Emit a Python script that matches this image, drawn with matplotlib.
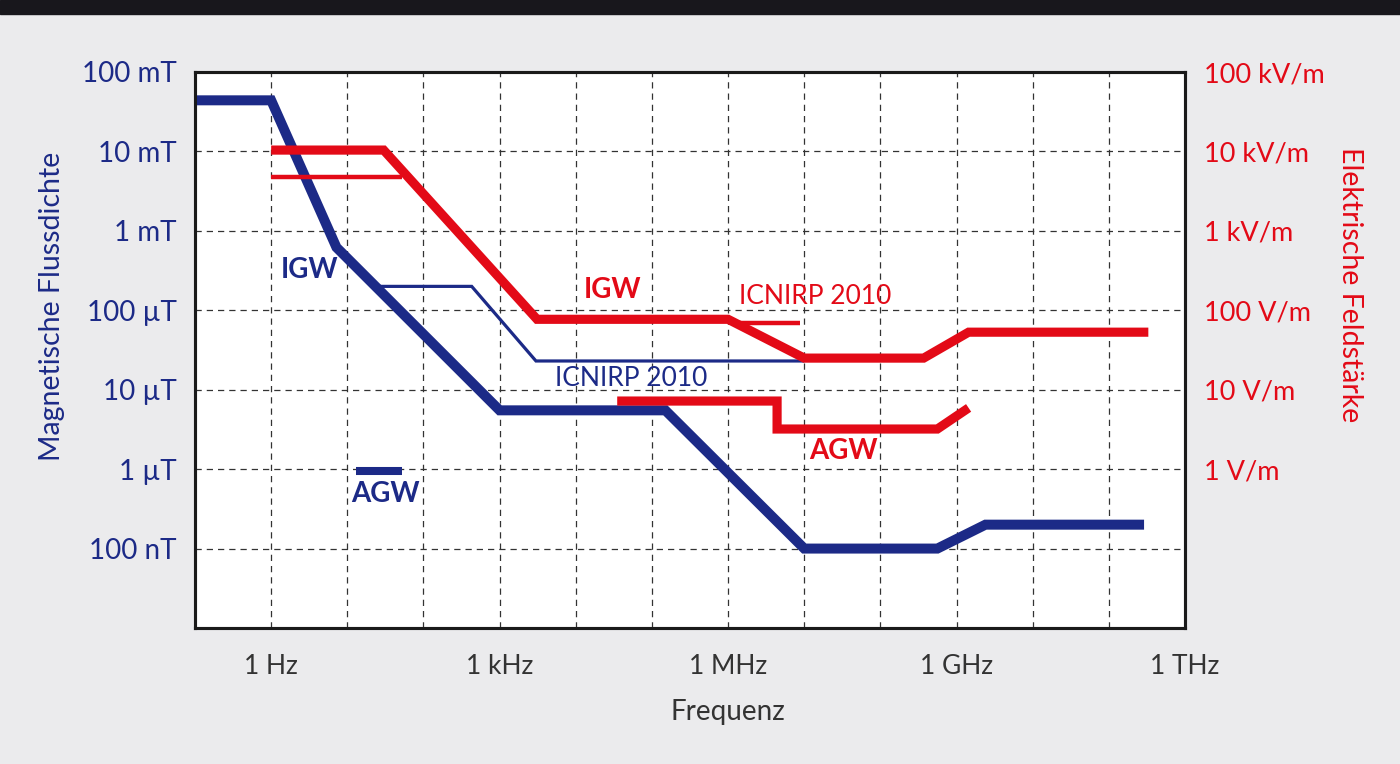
import matplotlib.pyplot as plt
from matplotlib.patches import Rectangle

BLUE = '#1c2a87'
RED = '#e30a17'
BG = '#ebebed'

# magnetic flux density (T) vs frequency (Hz)
igw_b_f = [0.1, 1, 7.2, 1000, 1.5e5, 1e7, 5.6e8, 2.4e9, 2.9e11]
igw_b_v = [4.4e-2, 4.4e-2, 6.2e-4, 5.5e-6, 5.5e-6, 1e-7, 1e-7, 2e-7, 2e-7]
icnirp_b_f = [25, 430, 3000, 1e7]
icnirp_b_v = [2e-4, 2e-4, 2.3e-5, 2.3e-5]
agw_b_f = [13, 53]
agw_b_v = [9.5e-7, 9.5e-7]

# electric field strength (V/m) vs frequency (Hz)
igw_e_f = [1, 30, 3100, 1e6, 1e7, 3.7e8, 1.44e9, 3.3e11]
igw_e_v = [1.04e4, 1.04e4, 77, 77, 25, 25, 53, 53]
icnirp_e1_f = [1, 53]
icnirp_e1_v = [4.8e3, 4.8e3]
icnirp_e2_f = [1.17e6, 8.9e6]
icnirp_e2_v = [69, 69]
agw_e_f = [3.5e4, 4.4e6, 4.4e6, 5.6e8, 1.44e9]
agw_e_v = [7.2, 7.2, 3.2, 3.2, 5.9]

x_ticks = [1, 1e3, 1e6, 1e9, 1e12]
x_labels = ['1 Hz', '1 kHz', '1 MHz', '1 GHz', '1 THz']
b_ticks = [1e-1, 1e-2, 1e-3, 1e-4, 1e-5, 1e-6, 1e-7]
b_labels = ['100 mT', '10 mT', '1 mT', '100 µT', '10 µT', '1 µT', '100 nT']
e_ticks = [1e5, 1e4, 1e3, 1e2, 1e1, 1e0]
e_labels = ['100 kV/m', '10 kV/m', '1 kV/m', '100 V/m', '10 V/m', '1 V/m']

plt.rcParams['font.family'] = ['Lato', 'DejaVu Sans']

fig = plt.figure(figsize=(14, 7.64), dpi=100, facecolor=BG)
fig.patches.append(Rectangle((0, 1 - 14 / 764), 1, 14 / 764, transform=fig.transFigure,
                             color='#18171c', zorder=0))
ax = fig.add_axes([195 / 1400, 1 - 628 / 764, 990 / 1400, 556 / 764])
ax.set_facecolor('white')
ax.set_xscale('log')
ax.set_yscale('log')
ax.set_xlim(0.1, 1e12)
ax.set_ylim(1e-8, 1e-1)

for k in range(0, 12):
    ax.axvline(10.0 ** k, color='#333333', lw=0.9, ls=(0, (5, 4)), zorder=1)
for k in range(-7, -1):
    ax.axhline(10.0 ** k, color='#333333', lw=0.9, ls=(0, (5, 4)), zorder=1)

ax.plot(igw_b_f, igw_b_v, color=BLUE, lw=7.2, solid_joinstyle='miter', solid_capstyle='butt', zorder=3)
ax.plot(icnirp_b_f, icnirp_b_v, color=BLUE, lw=2.3, solid_joinstyle='miter', solid_capstyle='butt', zorder=3)
ax.plot(agw_b_f, agw_b_v, color=BLUE, lw=5.8, solid_capstyle='butt', zorder=3)

ax.set_xticks(x_ticks)
ax.set_xticklabels(x_labels)
ax.minorticks_off()
ax.set_yticks(b_ticks)
ax.set_yticklabels(b_labels)
ax.tick_params(axis='x', length=0, pad=19, labelsize=19, labelcolor='#333333')
ax.tick_params(axis='y', length=0, pad=13, labelsize=20, labelcolor=BLUE)
for s in ax.spines.values():
    s.set_linewidth(2.2)
    s.set_color('#1a1a1a')

ax2 = ax.twinx()
ax2.set_yscale('log')
ax2.set_ylim(1e-2, 1e5)
ax2.plot(igw_e_f, igw_e_v, color=RED, lw=6.6, solid_joinstyle='miter', solid_capstyle='butt', zorder=3)
ax2.plot(icnirp_e1_f, icnirp_e1_v, color=RED, lw=3.2, solid_capstyle='butt', zorder=3)
ax2.plot(icnirp_e2_f, icnirp_e2_v, color=RED, lw=3.2, solid_capstyle='butt', zorder=3)
ax2.plot(agw_e_f, agw_e_v, color=RED, lw=6.6, solid_joinstyle='miter', solid_capstyle='butt', zorder=3)
ax2.minorticks_off()
ax2.set_yticks(e_ticks)
ax2.set_yticklabels(e_labels)
ax2.tick_params(axis='y', length=0, pad=14, labelsize=19.5, labelcolor=RED)
for s in ax2.spines.values():
    s.set_linewidth(2.2)
    s.set_color('#1a1a1a')

# series labels
ax.text(3.2, 3.2e-4, 'IGW', color=BLUE, fontsize=20, fontweight='bold', ha='center', va='center')
ax.text(31.6, 4.8e-7, 'AGW', color=BLUE, fontsize=20, fontweight='bold', ha='center', va='center')
ax.text(5.3e4, 1.4e-5, 'ICNIRP 2010', color=BLUE, fontsize=19, ha='center', va='center')
ax2.text(3.07e4, 180, 'IGW', color=RED, fontsize=20, fontweight='bold', ha='center', va='center')
ax2.text(1.4e7, 151, 'ICNIRP 2010', color=RED, fontsize=19, ha='center', va='center')
ax2.text(3.26e7, 1.69, 'AGW', color=RED, fontsize=20, fontweight='bold', ha='center', va='center')

fig.text(728 / 1400, 1 - 712 / 764, 'Frequenz', color='#333333', fontsize=20,
         ha='center', va='center')
fig.text(52 / 1400, 1 - 306 / 764, 'Magnetische Flussdichte', color=BLUE, fontsize=20.5,
         rotation=90, ha='center', va='center')
fig.text(1350 / 1400, 1 - 285 / 764, 'Elektrische Feldstärke', color=RED, fontsize=20.5,
         rotation=270, ha='center', va='center')

fig.savefig('out.png', dpi=100, facecolor=BG)
